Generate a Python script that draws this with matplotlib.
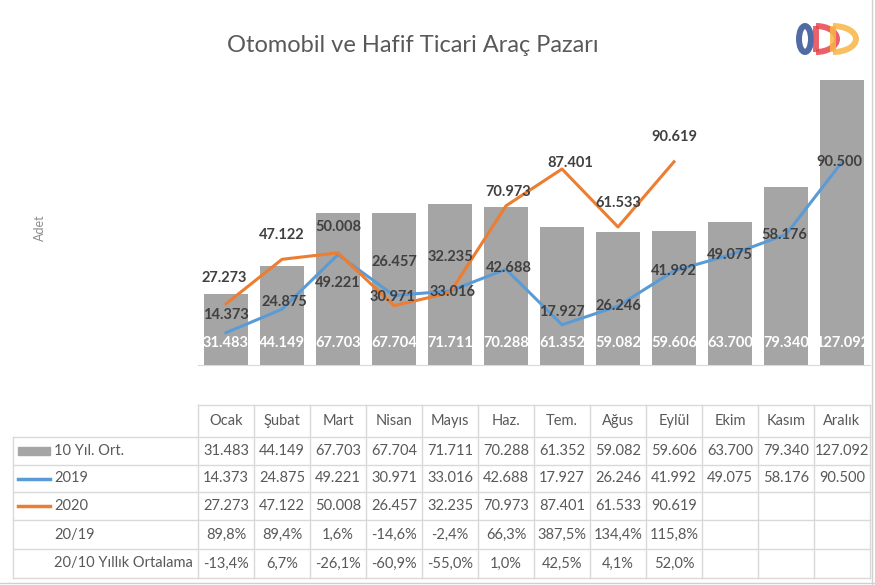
import matplotlib
matplotlib.use("Agg")
import matplotlib.pyplot as plt
from matplotlib.patches import Ellipse, Arc
import numpy as np

plt.rcParams['font.family'] = ['Lato', 'DejaVu Sans']

## Data
months = ["Ocak", "Şubat", "Mart", "Nisan", "Mayıs", "Haz.", "Tem.", "Ağus", "Eylül", "Ekim", "Kasım", "Aralık"]
avg10 = [31483, 44149, 67703, 67704, 71711, 70288, 61352, 59082, 59606, 63700, 79340, 127092]
y2019 = [14373, 24875, 49221, 30971, 33016, 42688, 17927, 26246, 41992, 49075, 58176, 90500]
y2020 = [27273, 47122, 50008, 26457, 32235, 70973, 87401, 61533, 90619]
r20_19 = [89.8, 89.4, 1.6, -14.6, -2.4, 66.3, 387.5, 134.4, 115.8]
r20_10 = [-13.4, 6.7, -26.1, -60.9, -55.0, 1.0, 42.5, 4.1, 52.0]

## label offsets (pixels) for line labels
off2019 = [(0, 18), (2, 7), (0, -28), (-1, -1), (3, -1), (3, 1), (0, 13), (0, 0), (0, 0), (0, 0), (-2, 0), (-3, 0)]
off2020 = [(-2, 26), (0, 24), (0, 26), (0, 44), (0, 36), (2, 14), (8, 6), (0, 24), (0, 25)]

GRAY = "#A5A5A5"; BLUE = "#5B9BD5"; ORANGE = "#ED7D31"; TXT = "#404040"

def num(v):
    return f"{v:,}".replace(",", ".")

def pct(v):
    return f"{v:.1f}%".replace(".", ",")

W, H = 875, 585
fig = plt.figure(figsize=(W/100, H/100), dpi=100)

## ==== Main chart ====
base, top = 365, 51
ax = fig.add_axes([198/W, 1 - base/H, 672/W, (base - top)/H])
ax.set_facecolor("none")
x = np.arange(len(months))
ax.bar(x, avg10, width=0.8, color=GRAY, zorder=1)
ax.plot(x, y2019, color=BLUE, lw=2.2, zorder=2, solid_joinstyle='round')
ax.plot(x[:len(y2020)], y2020, color=ORANGE, lw=2.2, zorder=3, solid_joinstyle='round')
ax.set_xlim(-0.5, len(months) - 0.5)
ax.set_ylim(0, 140000)
for s in ["top", "left", "right"]:
    ax.spines[s].set_visible(False)
ax.spines["bottom"].set_color("#D9D9D9")
ax.set_xticks([]); ax.set_yticks([])

for i, v in enumerate(avg10):
    ax.annotate(num(v), (i, 0), xytext=(0, 22*0.72), textcoords="offset points",
                ha="center", va="center", color="white", fontsize=10.5, fontweight="bold")
for i, v in enumerate(y2019):
    dx, dy = off2019[i]
    ax.annotate(num(v), (i, v), xytext=(dx*0.72, dy*0.72), textcoords="offset points",
                ha="center", va="center", color=TXT, fontsize=10.5, fontweight="bold", zorder=5)
for i, v in enumerate(y2020):
    dx, dy = off2020[i]
    ax.annotate(num(v), (i, v), xytext=(dx*0.72, dy*0.72), textcoords="offset points",
                ha="center", va="center", color=TXT, fontsize=10.5, fontweight="bold", zorder=5)

fig.text(413/W, 1 - 45/H, "Otomobil ve Hafif Ticari Araç Pazarı", ha="center", va="center",
         fontsize=17, color="#595959")
fig.text(40/W, 1 - 228/H, "Adet", rotation=90, ha="center", va="center", fontsize=9, color="#8C8C8C")

## ==== Table (pixel coords overlay) ====
tx = fig.add_axes([0, 0, 1, 1], zorder=-1)
tx.set_xlim(0, W); tx.set_ylim(H, 0); tx.axis("off")

## logo
lw_logo = 4.3
tx.add_patch(Ellipse((805, 39), 12, 26, fill=False, lw=lw_logo, ec="#3E5B9A", alpha=0.9))
for xs, xe, col in [(816, 837, "#E8454F"), (833, 856, "#F7B545")]:
    tx.add_patch(Arc((xs, 39), 2*(xe - xs), 26, theta1=-90, theta2=90, lw=lw_logo, color=col, alpha=0.85))
    tx.plot([xs, xs], [26, 52], color=col, lw=lw_logo, alpha=0.85, solid_capstyle='butt')

lc = "#D9D9D9"
x0, xl, xr = 13, 198, 870
cw = (xr - xl) / len(months)
rows_y = [405, 437, 465, 492, 520, 549, 578]
tx.plot([xl, xr], [rows_y[0]]*2, color=lc, lw=1)
for yy in rows_y[1:]:
    tx.plot([x0, xr], [yy]*2, color=lc, lw=1)
tx.plot([x0, x0], [rows_y[1], rows_y[-1]], color=lc, lw=1)
for j in range(len(months) + 1):
    xx = xl + j*cw
    tx.plot([xx, xx], [rows_y[0], rows_y[-1]], color=lc, lw=1)

centers = [(rows_y[k] + rows_y[k+1]) / 2 for k in range(len(rows_y) - 1)]
for j, m in enumerate(months):
    tx.text(xl + (j + 0.5)*cw, centers[0], m, ha="center", va="center", fontsize=10.5, color="#595959")
rows = [[num(v) for v in avg10], [num(v) for v in y2019], [num(v) for v in y2020],
        [pct(v) for v in r20_19], [pct(v) for v in r20_10]]
for k, row in enumerate(rows):
    for j, t in enumerate(row):
        tx.text(xl + (j + 0.5)*cw, centers[k+1], t, ha="center", va="center", fontsize=10.5, color="#595959")

labels = ["10 Yıl. Ort.", "2019", "2020", "20/19", "20/10 Yıllık Ortalama"]
for k, lab in enumerate(labels):
    tx.text(54, centers[k+1], lab, ha="left", va="center", fontsize=10.5, color="#595959")
tx.add_patch(plt.Rectangle((18, centers[1] - 4), 32, 8, color=GRAY))
tx.plot([18, 50], [centers[2]]*2, color=BLUE, lw=2.5)
tx.plot([18, 50], [centers[3]]*2, color=ORANGE, lw=2.5)

## frame lines at right/bottom
tx.plot([872, 872], [0, H], color="#D0D0D0", lw=1)
tx.plot([0, W], [583, 583], color="#D0D0D0", lw=1)

plt.savefig("out.png", dpi=100)
